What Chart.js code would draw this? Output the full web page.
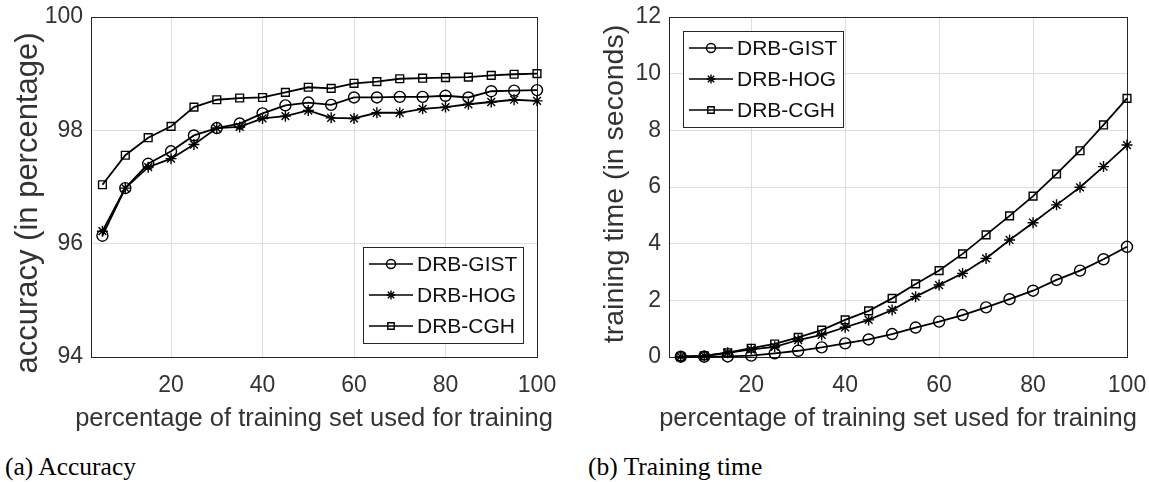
<!DOCTYPE html>
<html>
<head>
<meta charset="utf-8">
<script src="https://cdn.jsdelivr.net/npm/chart.js@4/dist/chart.umd.min.js"></script>
<style>
  html, body { margin: 0; padding: 0; background: #fff; overflow: hidden; }
  body { width: 1149px; height: 482px; position: relative; }
  .panel { position: absolute; top: 0; }
  .caption { position: absolute; top: 453px; font-family: "Liberation Serif", "Times New Roman", serif; font-size: 25.5px; line-height: 28px; color: #000; white-space: nowrap; }
</style>
</head>
<body>
<div class="panel" style="left:0"><canvas id="accChart" width="575" height="440"></canvas></div>
<div class="panel" style="left:575px"><canvas id="timeChart" width="574" height="440"></canvas></div>
<div class="caption" style="left:5px">(a) Accuracy</div>
<div class="caption" style="left:588px">(b) Training time</div>

<script>
// percentage of training set used
const trainPct = [5, 10, 15, 20, 25, 30, 35, 40, 45, 50, 55, 60, 65, 70, 75, 80, 85, 90, 95, 100];
const seriesNames = ["DRB-GIST", "DRB-HOG", "DRB-CGH"];

// accuracy (%)
const accGist = [96.14, 96.98, 97.41, 97.63, 97.91, 98.04, 98.12, 98.30, 98.44, 98.49, 98.45, 98.58, 98.58, 98.59, 98.59, 98.61, 98.58, 98.69, 98.70, 98.71];
const accHog  = [96.22, 96.98, 97.35, 97.50, 97.75, 98.04, 98.06, 98.21, 98.25, 98.35, 98.22, 98.21, 98.31, 98.31, 98.38, 98.41, 98.46, 98.50, 98.54, 98.52];
const accCgh  = [97.04, 97.56, 97.87, 98.07, 98.41, 98.54, 98.57, 98.58, 98.67, 98.76, 98.74, 98.83, 98.86, 98.91, 98.92, 98.93, 98.94, 98.97, 98.99, 99.00];

// training time (s)
const timeGist = [0.01, 0.01, 0.02, 0.05, 0.13, 0.22, 0.34, 0.48, 0.62, 0.81, 1.04, 1.25, 1.48, 1.75, 2.04, 2.34, 2.72, 3.05, 3.45, 3.89];
const timeHog  = [0.01, 0.04, 0.15, 0.27, 0.36, 0.60, 0.78, 1.05, 1.31, 1.66, 2.13, 2.54, 2.95, 3.48, 4.13, 4.74, 5.37, 5.99, 6.72, 7.48];
const timeCgh  = [0.01, 0.04, 0.15, 0.31, 0.46, 0.69, 0.95, 1.31, 1.63, 2.07, 2.58, 3.05, 3.64, 4.31, 4.98, 5.68, 6.46, 7.28, 8.19, 9.13];

// tick labels
const xTicks = [20, 40, 60, 80, 100];
const accTicks = [94, 96, 98, 100];
const timeTicks = [0, 2, 4, 6, 8, 10, 12];

const xTitle = "percentage of training set used for training";
const markerStyles = ["circle", "star", "rect"];
const markerSizes = [5.5, 5.5, 5.5];
const textColor = "#333";
const axisColor = "#262626";
const gridColor = "#dedede";
const sansFont = "'Liberation Sans', Arial, Helvetica, sans-serif";

// frame around the plot area (MATLAB "box on")
const boxFrame = {
  id: "boxFrame",
  beforeDatasetsDraw(chart) {
    const { ctx, chartArea: a } = chart;
    ctx.save();
    ctx.strokeStyle = axisColor;
    ctx.lineWidth = 1;
    ctx.strokeRect(Math.round(a.left) + 0.5, Math.round(a.top) + 0.5, Math.round(a.right - a.left), Math.round(a.bottom - a.top));
    ctx.restore();
  }
};

// axis titles, allowed to run wider than the plot area like in MATLAB
const axisTitles = {
  id: "axisTitles",
  afterDraw(chart, args, opts) {
    const { ctx, chartArea: a } = chart;
    ctx.save();
    ctx.fillStyle = textColor;
    ctx.textAlign = "center";
    ctx.textBaseline = "middle";
    ctx.font = opts.xSize + "px " + sansFont;
    ctx.fillText(opts.x, (a.left + a.right) / 2, opts.xPos);
    ctx.translate(opts.yPos, (a.top + a.bottom) / 2 + opts.yShift);
    ctx.rotate(-Math.PI / 2);
    ctx.font = opts.ySize + "px " + sansFont;
    ctx.fillText(opts.y, 0, 0);
    ctx.restore();
  }
};

// legend inside a box with line + marker samples
const boxLegend = {
  id: "boxLegend",
  afterDraw(chart, args, opts) {
    const { ctx, chartArea: a } = chart;
    const w = 160, h = 96;
    const x0 = opts.corner === "br" ? a.right - opts.inset - w : a.left + opts.inset;
    const y0 = opts.corner === "br" ? a.bottom - opts.inset - h : a.top + opts.inset;
    ctx.save();
    ctx.fillStyle = "#fff";
    ctx.fillRect(x0, y0, w, h);
    ctx.strokeStyle = axisColor;
    ctx.lineWidth = 1;
    ctx.strokeRect(Math.round(x0) + 0.5, Math.round(y0) + 0.5, w, h);
    chart.data.datasets.forEach((ds, i) => {
      const cy = y0 + 17 + i * 31;
      ctx.strokeStyle = "#000";
      ctx.lineWidth = 1.6;
      ctx.beginPath();
      ctx.moveTo(x0 + 6, cy);
      ctx.lineTo(x0 + 50, cy);
      ctx.stroke();
      ctx.fillStyle = "rgba(0,0,0,0)";
      ctx.lineWidth = 1.4;
      if (Chart.helpers && Chart.helpers.drawPoint) {
        Chart.helpers.drawPoint(ctx, { pointStyle: ds.pointStyle, radius: 4.5, rotation: 0, borderWidth: 1.4 }, x0 + 28, cy);
      }
      ctx.fillStyle = "#111";
      ctx.font = "21px " + sansFont;
      ctx.textBaseline = "middle";
      ctx.textAlign = "left";
      ctx.fillText(ds.label, x0 + 54, cy + 1);
    });
    ctx.restore();
  }
};

function buildDatasets(seriesList) {
  return seriesList.map((vals, i) => ({
    label: seriesNames[i],
    data: trainPct.map((x, j) => ({ x: x, y: vals[j] })),
    borderColor: "#000",
    borderWidth: 1.8,
    pointStyle: markerStyles[i],
    pointRadius: markerSizes[i],
    pointBorderWidth: 1.4,
    pointBorderColor: "#000",
    pointBackgroundColor: "rgba(0,0,0,0)",
    tension: 0,
    clip: false
  }));
}

function makeChart(id, seriesList, yTicks, yTitle, cfg) {
  const ctx = document.getElementById(id).getContext("2d");
  return new Chart(ctx, {
    type: "line",
    data: { datasets: buildDatasets(seriesList) },
    plugins: [boxFrame, axisTitles, boxLegend],
    options: {
      responsive: false,
      animation: false,
      devicePixelRatio: 1,
      layout: { padding: { left: 0, top: 17, right: cfg.padRight, bottom: 0 } },
      plugins: {
        legend: { display: false },
        tooltip: { enabled: false },
        boxLegend: { corner: cfg.legendCorner, inset: 14 },
        axisTitles: {
          x: xTitle, xSize: 25.5, xPos: 419,
          y: yTitle, ySize: cfg.titleSize, yPos: cfg.titleX, yShift: cfg.titleShift
        }
      },
      scales: {
        x: {
          type: "linear",
          min: 2.5,
          max: 100,
          afterBuildTicks: (scale) => { scale.ticks = xTicks.map(v => ({ value: v })); },
          afterFit: (scale) => { scale.height = 83; scale.paddingLeft = 0; scale.paddingRight = 0; },
          grid: { color: gridColor, drawTicks: false },
          border: { display: false },
          ticks: { color: textColor, padding: 15, font: { family: sansFont, size: 23 } }
        },
        y: {
          min: yTicks[0],
          max: yTicks[yTicks.length - 1],
          afterBuildTicks: (scale) => { scale.ticks = yTicks.map(v => ({ value: v })); },
          afterFit: (scale) => { scale.width = cfg.yWidth; scale.paddingTop = 0; scale.paddingBottom = 0; },
          grid: { color: gridColor, drawTicks: false },
          border: { display: false },
          ticks: { color: textColor, padding: 8, font: { family: sansFont, size: 23 } }
        }
      }
    }
  });
}

makeChart("accChart", [accGist, accHog, accCgh], accTicks, "accuracy (in percentage)",
  { yWidth: 91, padRight: 38, titleSize: 31, titleX: 28, titleShift: 16, legendCorner: "br" });
makeChart("timeChart", [timeGist, timeHog, timeCgh], timeTicks, "training time (in seconds)",
  { yWidth: 94, padRight: 22, titleSize: 28.5, titleX: 40, titleShift: -3, legendCorner: "tl" });
</script>
</body>
</html>
